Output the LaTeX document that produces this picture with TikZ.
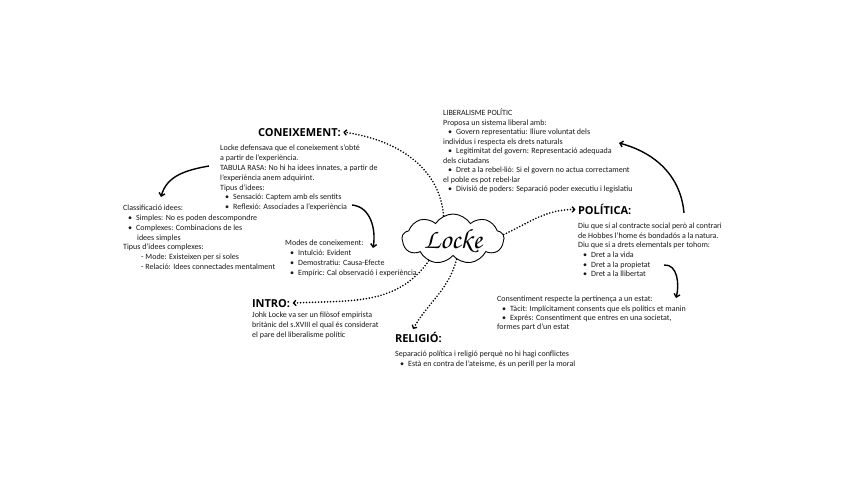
\documentclass[tikz,border=0pt]{standalone}
\usepackage{fontspec}
\setmainfont{Carlito}
\newfontfamily\headfont{Open Sans}
\newfontfamily\lockefont{texgyrechorus-mediumitalic}[Extension=.otf]
\usetikzlibrary{shapes.symbols,arrows.meta}
\newcommand{\bul}{\hspace*{5pt}\textbullet\hspace{4pt}}
\tikzset{
  body/.style={anchor=north west, inner sep=0pt, align=left, text=black!90,
    font=\fontsize{8}{9.8}\selectfont},
  head/.style={anchor=base west, inner sep=0pt, outer sep=2.5pt,
    font=\headfont\bfseries\fontsize{11}{12}\selectfont},
  dotlink/.style={line width=1.8pt, dash pattern=on 0pt off 3pt, line cap=round,
    -{Straight Barb[length=2.5pt,width=5.5pt,line width=1.3pt]}},
  solidlink/.style={line width=1.4pt, -{Straight Barb[length=3pt,width=6pt]}},
  cloudbox/.style={cloud, draw, line width=0.9pt, cloud puffs=9, cloud puff arc=115,
    aspect=2.1, minimum width=102pt, minimum height=50pt, inner sep=0pt}
}
\begin{document}
\begin{tikzpicture}[x=1pt,y=1pt]
\fill[white] (0,0) rectangle (848,-477);
\useasboundingbox (0,0) rectangle (848,-477);

% central cloud
\node[cloudbox] (locke) at (453,-239) {};
\node (lockename) at (453,-241) {\lockefont\fontsize{28}{28}\selectfont Locke};

% headings
\node[head] (coneix) at (255.5,-136) {CONEIXEMENT:};
\node[head] (polit) at (575.5,-214.5) {POLÍTICA:};
\node[head] (intro) at (249.5,-307) {INTRO:};
\node[head] (relig) at (392.5,-342) {RELIGIÓ:};

% text blocks
\node[body] (coneixtxt) at (220,-145) {Locke defensava que el coneixement s'obté\\
a partir de l'experiència.\\
TABULA RASA: No hi ha idees innates, a partir de\\
l'experiència anem adquirint.\\
Tipus d'idees:\\
\bul Sensació: Captem amb els sentits\\
\bul Reflexió: Associades a l'experiència};

\node[body] (classif) at (123,-205) {Classificació idees:\\
\bul Simples: No es poden descompondre\\
\bul Complexes: Combinacions de les\\
\hspace*{14pt}idees simples\\
Tipus d'idees complexes:\\
\hspace*{18pt}- Mode: Existeixen per si soles\\
\hspace*{18pt}- Relació: Idees connectades mentalment};

\node[body] (modes) at (285,-240) {Modes de coneixement:\\
\bul Intuïció: Evident\\
\bul Demostratiu: Causa-Efecte\\
\bul Empíric: Cal observació i experiència};

\node[body] (introtxt) at (252,-312) {Johk Locke va ser un filòsof empirista\\
britànic del s.XVIII el qual és considerat\\
el pare del liberalisme polític};

\node[body] (religtxt) at (395,-351) {Separació política i religió perquè no hi hagi conflictes\\
\bul Està en contra de l'ateisme, és un perill per la moral};

\node[body, font=\fontsize{8}{9.5}\selectfont] (liberal) at (443,-109) {LIBERALISME POLÍTIC\\
Proposa un sistema liberal amb:\\
\bul Govern representatiu: lliure voluntat dels\\
individus i respecta els drets naturals\\
\bul Legitimitat del govern: Representació adequada\\
dels ciutadans\\
\bul Dret a la rebel·lió: Si el govern no actua correctament\\
el poble es pot rebel·lar\\
\bul Divisió de poders: Separació poder executiu i legislatiu};

\node[body, font=\fontsize{8}{9.6}\selectfont] (polittxt) at (578,-223) {Diu que sí al contracte social però al contrari\\
de Hobbes l'home és bondadós a la natura.\\
Diu que si a drets elementals per tohom:\\
\bul Dret a la vida\\
\bul Dret a la propietat\\
\bul Dret a la llibertat};

\node[body, font=\fontsize{8}{9.4}\selectfont] (consent) at (497,-296) {Consentiment respecte la pertinença a un estat:\\
\bul Tàcit: Implícitament consents que els polítics et manin\\
\bul Exprés: Consentiment que entres en una societat,\\
formes part d'un estat};

% dotted connectors from the cloud
\coordinate (religtip) at (413,-329);
\draw[dotlink] (locke.112) to[out=95,in=-8] (coneix.east);
\draw[dotlink] (locke.5) to[out=25,in=180] (polit.west);
\draw[dotlink] (locke.222) to[out=235,in=3] (intro.east);
\draw[dotlink] (locke.280) to[out=255,in=60] (religtip);

% solid curved arrows
\coordinate (a1s) at (209,-166);
\coordinate (a1e) at (161,-197);
\coordinate (a2s) at (352,-205);
\coordinate (a2e) at (373,-248);
\coordinate (a3s) at (684,-213);
\coordinate (a3e) at (619,-143);
\coordinate (a4s) at (664,-265);
\coordinate (a4e) at (676,-298);
\draw[solidlink] (a1s) to[out=190,in=75] (a1e);
\draw[solidlink] (a2s) to[out=-5,in=80] (a2e);
\draw[solidlink] (a3s) to[out=95,in=-15] (a3e);
\draw[solidlink] (a4s) to[out=5,in=75] (a4e);
\end{tikzpicture}
\end{document}
